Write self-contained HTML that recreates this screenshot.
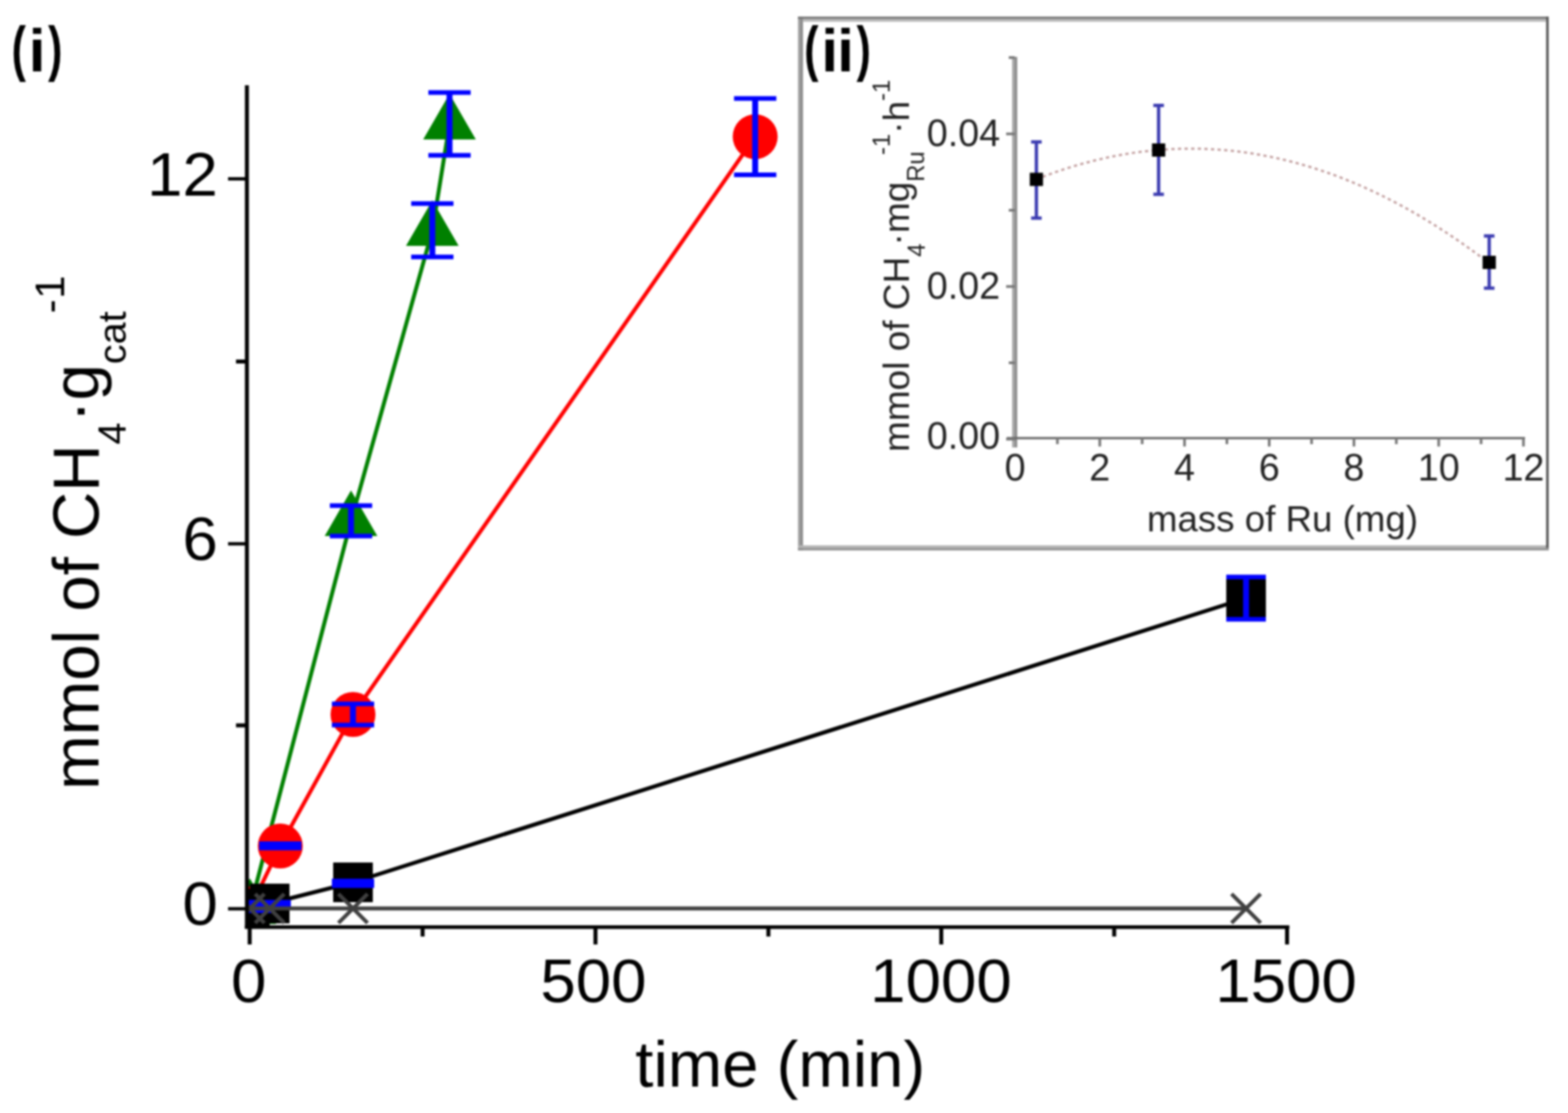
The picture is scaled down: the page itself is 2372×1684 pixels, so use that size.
<!DOCTYPE html>
<html><head><meta charset="utf-8"><title>plot</title>
<style>html,body{margin:0;padding:0;background:#fff;overflow:hidden}svg{display:block;filter:blur(1.5px)}</style></head><body>
<svg width="2372" height="1684" viewBox="0 0 2372 1684" font-family="'Liberation Sans', Arial, Helvetica, sans-serif">
<rect width="2372" height="1684" fill="#fff"/>
<defs><clipPath id="pc"><rect x="371" y="0" width="1700" height="1403"/></clipPath></defs>
<g clip-path="url(#pc)">
<polyline points="378,1375 531,788 654,349 680,188" fill="none" stroke="#008000" stroke-width="6" stroke-linejoin="round"/>
<polygon points="378.0,1329.0 417.8,1398.0 338.2,1398.0" fill="#008000"/>
<polygon points="531.0,742.0 570.8,811.0 491.2,811.0" fill="#008000"/>
<polygon points="654.0,303.0 693.8,372.0 614.2,372.0" fill="#008000"/>
<polygon points="680.0,142.0 719.8,211.0 640.2,211.0" fill="#008000"/>
<path d="M531,765V811" stroke="#0000ff" stroke-width="9" fill="none"/><path d="M499,765H563M499,811H563" stroke="#0000ff" stroke-width="7" fill="none"/>
<path d="M654,308V388.7" stroke="#0000ff" stroke-width="9" fill="none"/><path d="M622,308H686M622,388.7H686" stroke="#0000ff" stroke-width="7" fill="none"/>
<path d="M680,140V235" stroke="#0000ff" stroke-width="9" fill="none"/><path d="M648,140H712M648,235H712" stroke="#0000ff" stroke-width="7" fill="none"/>
<polyline points="378,1375 424,1280 534,1081 1142.4,206.8" fill="none" stroke="#ff0000" stroke-width="6" stroke-linejoin="round"/>
<circle cx="378" cy="1375" r="34" fill="#ff0000"/>
<circle cx="424" cy="1280" r="34" fill="#ff0000"/>
<circle cx="534" cy="1081" r="34" fill="#ff0000"/>
<circle cx="1142.4" cy="206.8" r="34" fill="#ff0000"/>
<path d="M378,1372V1378" stroke="#0000ff" stroke-width="9" fill="none"/><path d="M346,1372H410M346,1378H410" stroke="#0000ff" stroke-width="7" fill="none"/>
<path d="M424,1276.5V1283" stroke="#0000ff" stroke-width="9" fill="none"/><path d="M392,1276.5H456M392,1283H456" stroke="#0000ff" stroke-width="7" fill="none"/>
<path d="M534,1065V1097" stroke="#0000ff" stroke-width="9" fill="none"/><path d="M502,1065H566M502,1097H566" stroke="#0000ff" stroke-width="7" fill="none"/>
<path d="M1142.4,149V264.5" stroke="#0000ff" stroke-width="9" fill="none"/><path d="M1110.4,149H1174.4M1110.4,264.5H1174.4" stroke="#0000ff" stroke-width="7" fill="none"/>
<polyline points="378,1375 408,1367 534,1335 1885,905" fill="none" stroke="#000" stroke-width="6" stroke-linejoin="round"/>
<rect x="348" y="1345" width="60" height="60" fill="#000"/>
<rect x="378" y="1337" width="60" height="60" fill="#000"/>
<rect x="504" y="1305" width="60" height="60" fill="#000"/>
<rect x="1855" y="875" width="60" height="60" fill="#000"/>
<path d="M378,1371V1378" stroke="#0000ff" stroke-width="9" fill="none"/><path d="M346,1371H410M346,1378H410" stroke="#0000ff" stroke-width="7" fill="none"/>
<path d="M408,1365V1372" stroke="#0000ff" stroke-width="9" fill="none"/><path d="M376,1365H440M376,1372H440" stroke="#0000ff" stroke-width="7" fill="none"/>
<path d="M534,1333V1340" stroke="#0000ff" stroke-width="9" fill="none"/><path d="M502,1333H566M502,1340H566" stroke="#0000ff" stroke-width="7" fill="none"/>
<path d="M1885,873V937" stroke="#0000ff" stroke-width="9" fill="none"/><path d="M1855,873H1915M1855,937H1915" stroke="#0000ff" stroke-width="7" fill="none"/>
<polyline points="378,1374.5 408,1374.5 534,1374.5 1885,1374.5" fill="none" stroke="#404040" stroke-width="6" stroke-linejoin="round"/>
<path d="M356,1352.5L400,1396.5M356,1396.5L400,1352.5" stroke="#404040" stroke-width="6" fill="none"/>
<path d="M386,1352.5L430,1396.5M386,1396.5L430,1352.5" stroke="#404040" stroke-width="6" fill="none"/>
<path d="M512,1352.5L556,1396.5M512,1396.5L556,1352.5" stroke="#404040" stroke-width="6" fill="none"/>
<path d="M1863,1352.5L1907,1396.5M1863,1396.5L1907,1352.5" stroke="#404040" stroke-width="6" fill="none"/>
</g>
<g stroke="#000" fill="none">
<path d="M373.5,129V1405" stroke-width="6"/>
<path d="M370.5,1402.7H1950.5" stroke-width="5.5"/>
<path d="M345,1375.0H373" stroke-width="5"/>
<path d="M345,822.8H373" stroke-width="5"/>
<path d="M345,270.6H373" stroke-width="5"/>
<path d="M357,547.0H373" stroke-width="6"/>
<path d="M357,1097.5H373" stroke-width="6"/>
<path d="M377.7,1403V1429" stroke-width="6"/>
<path d="M900.8,1403V1429" stroke-width="6"/>
<path d="M1423.9,1403V1429" stroke-width="6"/>
<path d="M1947.0,1403V1429" stroke-width="6"/>
<path d="M639.3,1403V1417" stroke-width="6"/>
<path d="M1162.4,1403V1417" stroke-width="6"/>
<path d="M1685.5,1403V1417" stroke-width="6"/>
</g>
<g font-size="93" fill="#000">
<text transform="translate(329.5,1398.5) scale(1.035,1)" text-anchor="end">0</text>
<text transform="translate(329.5,846.5) scale(1.035,1)" text-anchor="end">6</text>
<text transform="translate(329.5,295.5) scale(1.035,1)" text-anchor="end">12</text>
<text transform="translate(376.2,1515.5) scale(1.035,1)" text-anchor="middle">0</text>
<text transform="translate(897.8,1515.5) scale(1.035,1)" text-anchor="middle">500</text>
<text transform="translate(1423.4,1515.5) scale(1.035,1)" text-anchor="middle">1000</text>
<text transform="translate(1945.5,1515.5) scale(1.035,1)" text-anchor="middle">1500</text>
</g>
<text x="961" y="1644" font-size="98.7">time (min)</text>
<text transform="translate(149,1195) rotate(-90)" font-size="99">mmol of CH<tspan dy="41" font-size="60">4</tspan><tspan dy="-41">·g</tspan><tspan dy="41" font-size="60">cat</tspan><tspan dy="-93" dx="-3" font-size="63">-</tspan><tspan dx="1" font-size="63">1</tspan></text>
<text transform="translate(17.6,104.9) scale(0.7,1)" font-size="93" font-weight="bold">(</text>
<text transform="translate(43.6,108.3) scale(1.0,1)" font-size="91" font-weight="bold">i</text>
<text transform="translate(72.7,104.9) scale(0.7,1)" font-size="93" font-weight="bold">)</text>
<rect x="1207" y="25" width="1136" height="808" fill="#fff"/>
<rect x="1207.2" y="25" width="3.8" height="808" fill="#a0a0a0"/>
<rect x="1211" y="25" width="3.7" height="808" fill="#8a8a8a"/>
<rect x="1207" y="25.1" width="1135" height="3.7" fill="#777"/>
<rect x="1214.7" y="28.8" width="1124" height="4.2" fill="#bbb"/>
<rect x="1207" y="825.1" width="1132" height="4" fill="#b5b5b5"/>
<rect x="1207" y="829.1" width="1136" height="3.7" fill="#939393"/>
<rect x="2338.9" y="25" width="3.9" height="804" fill="#585858"/>
<text transform="translate(1216.6,104.5) scale(0.7,1)" font-size="93" font-weight="bold">(</text>
<text transform="translate(1242.4,107.5) scale(1.0,1)" font-size="91" font-weight="bold">i</text>
<text transform="translate(1266.4,107.5) scale(1.0,1)" font-size="91" font-weight="bold">i</text>
<text transform="translate(1295.7,104.5) scale(0.7,1)" font-size="93" font-weight="bold">)</text>
<g fill="none">
<rect x="1531" y="86" width="4" height="591" fill="#a8a8a8"/>
<rect x="1535" y="86" width="3.8" height="591" fill="#8c8c8c"/>
<rect x="1523" y="661.2" width="784" height="3.4" fill="#666"/>
<path d="M1522,664.4H1535" stroke="#777" stroke-width="4"/>
<path d="M1522,433.5H1535" stroke="#777" stroke-width="4"/>
<path d="M1522,202.6H1535" stroke="#777" stroke-width="4"/>
<path d="M1526,548.9H1535" stroke="#777" stroke-width="4"/>
<path d="M1526,318.1H1535" stroke="#777" stroke-width="4"/>
<path d="M1526,87.1H1535" stroke="#777" stroke-width="4"/>
<path d="M1599.6,662.6V672" stroke="#777" stroke-width="4"/>
<path d="M1663.7,662.6V675.6" stroke="#777" stroke-width="4"/>
<path d="M1727.8,662.6V672" stroke="#777" stroke-width="4"/>
<path d="M1791.9,662.6V675.6" stroke="#777" stroke-width="4"/>
<path d="M1856.0,662.6V672" stroke="#777" stroke-width="4"/>
<path d="M1920.0,662.6V675.6" stroke="#777" stroke-width="4"/>
<path d="M1984.1,662.6V672" stroke="#777" stroke-width="4"/>
<path d="M2048.2,662.6V675.6" stroke="#777" stroke-width="4"/>
<path d="M2112.3,662.6V672" stroke="#777" stroke-width="4"/>
<path d="M2176.4,662.6V675.6" stroke="#777" stroke-width="4"/>
<path d="M2240.5,662.6V672" stroke="#777" stroke-width="4"/>
<path d="M2304.6,662.6V675.6" stroke="#777" stroke-width="4"/>
</g>
<g font-size="57" fill="#222">
<text x="1513" y="221" text-anchor="end">0.04</text>
<text x="1513" y="452" text-anchor="end">0.02</text>
<text x="1513" y="679" text-anchor="end">0.00</text>
<text x="1535.5" y="727" text-anchor="middle">0</text>
<text x="1663.7" y="727" text-anchor="middle">2</text>
<text x="1791.9" y="727" text-anchor="middle">4</text>
<text x="1920.0" y="727" text-anchor="middle">6</text>
<text x="2048.2" y="727" text-anchor="middle">8</text>
<text x="2176.4" y="727" text-anchor="middle">10</text>
<text x="2304.6" y="727" text-anchor="middle">12</text>
<text x="1735" y="804" font-size="55.5">mass of Ru (mg)</text>
<text transform="translate(1375,684) rotate(-90)" font-size="56">mmol of CH<tspan dy="24" font-size="36">4</tspan><tspan dy="-24" dx="-3">·mg</tspan><tspan dy="23" font-size="36">Ru</tspan><tspan dy="-52" dx="-5.6" font-size="36">-1</tspan><tspan dy="29">·h</tspan><tspan dy="-29" font-size="36">-1</tspan></text>
</g>
<path d="M1567.8,271.2Q1910.3,135.3 2252.8,398.2" fill="none" stroke="#c4a2a2" stroke-width="3.5" stroke-dasharray="5 5"/>
<path d="M1567.8,212.8V332M1559.8,214.8H1575.8M1559.8,330H1575.8" stroke="#3a3ab0" stroke-width="5" fill="none"/>
<rect x="1557.8" y="261.4" width="20" height="20" fill="#000"/>
<path d="M1752.7,157.4V296M1744.7,159.4H1760.7M1744.7,294H1760.7" stroke="#3a3ab0" stroke-width="5" fill="none"/>
<rect x="1742.7" y="217" width="20" height="20" fill="#000"/>
<path d="M2252.8,355V438M2244.8,357H2260.8M2244.8,436H2260.8" stroke="#3a3ab0" stroke-width="5" fill="none"/>
<rect x="2242.8" y="387" width="20" height="20" fill="#000"/>
</svg></body></html>
